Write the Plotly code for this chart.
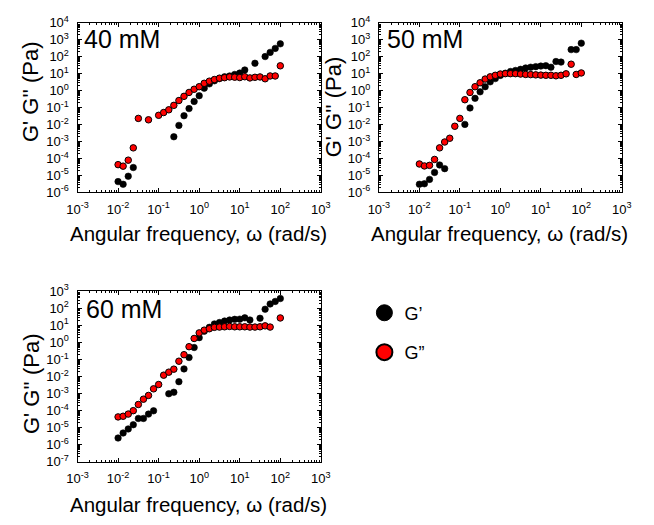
import plotly.graph_objects as go

# the page body has an 8px margin, so the figure is drawn 8px in from the window corner
OFF = 8
W, H = 654 - OFF, 525 - OFF
FONT = "Liberation Sans"

# angular frequency, rad/s (same sweep for every sample)
omega = [0.01, 0.0133, 0.0178, 0.0237, 0.0316, 0.0422, 0.0562, 0.075,
         0.1, 0.133, 0.178, 0.237, 0.316, 0.422, 0.562, 0.75,
         1, 1.33, 1.78, 2.37, 3.16, 4.22, 5.62, 7.5,
         10, 13.3, 17.8, 23.7, 31.6, 42.2, 56.2, 75, 100]

# 40 mM
g1_40 = [4.3e-6, 3.0e-6, 8.9e-6, 2.9e-5, None, None, None, None,
         None, None, None, 1.9e-3, 8.9e-3, 0.033, 0.087, 0.23,
         0.5, 1.4, 2.5, 3.8, 5.1, 6.5, 7.3, 9.0,
         10.8, 16.5, None, 41, None, 102, 180, 310, 575]
g2_40 = [4.3e-5, 3.5e-5, 7.9e-5, 4.2e-4, 0.023, None, 0.019, None,
         0.035, 0.051, 0.074, 0.135, 0.26, 0.46, 0.78, 1.2,
         1.7, 2.7, 3.6, 4.5, 5.4, 5.8, 6.4, 6.2,
         5.9, 6.6, 5.6, 6.1, 6.4, 5.0, 7.3, 7.3, 29]

# 50 mM
g1_50 = [3.0e-6, 3.2e-6, 5.8e-6, 1.5e-5, 4.1e-5, 2.5e-5, None, None,
         None, 0.0102, 0.095, 0.35, 0.85, 1.7, 3.3, 5.1,
         7.9, 10.6, 13.4, 15.4, 18, 21.7, 24, 26,
         28, 29.5, 24, 52, 48, None, 262, 262, 630]
g2_50 = [4.7e-5, 3.6e-5, 3.9e-5, 8.7e-5, 4.2e-4, 9.3e-4, 1.55e-3, 7.9e-3,
         0.023, 0.29, 0.78, 1.7, 2.9, 4.8, 6.5, 8.0,
         9.5, 10, 10, 10, 9.5, 9.0, 8.8, 8.5,
         8.2, 8.0, 8.0, 7.5, 8.0, 9.8, 36, 9.0, 11]

# 60 mM
g1_60 = [2.5e-6, 4.9e-6, 8.5e-6, 1.5e-5, 3.5e-5, 3.5e-5, 6.3e-5, 9.8e-5,
         None, None, 9.8e-4, 1.2e-3, 5.0e-3, 0.028, 0.13, 0.5,
         1.9, 4.5, 7.6, 12, 14.5, 17.8, 20.5, 22.4,
         23, 27.5, 20.5, None, 26, 88, 178, 250, 370]
g2_60 = [4.3e-5, 4.7e-5, 6.3e-5, 1.0e-4, 2.3e-4, 4.7e-4, 7.8e-4, 1.9e-3,
         3.4e-3, 0.012, 0.018, 0.027, 0.079, 0.19, 0.56, 1.7,
         3.6, 5.2, 6.3, 7.6, 7.9, 8.2, 8.6, 8.2,
         8.2, 8.2, 7.9, 7.9, 8.2, 9.3, 7.9, None, 27]

panels = [
    ("40 mM", g1_40, g2_40, "x", "y"),
    ("50 mM", g1_50, g2_50, "x2", "y2"),
    ("60 mM", g1_60, g2_60, "x3", "y3"),
]


# window pixel -> paper fraction
def fx(p):
    return (p - OFF) / W


def fy(p):
    return 1 - (p - OFF) / H


def sup(e):
    return "10<sup>%s</sup>" % ("-%d" % -e if e < 0 else "%d" % e)


def log_axis(lo, hi, domain, anchor):
    major = [10.0 ** e for e in range(lo, hi + 1)]
    minor = [m * 10.0 ** e for e in range(lo, hi) for m in range(2, 10)]
    return dict(
        type="log", range=[lo, hi], domain=domain, anchor=anchor,
        showline=True, linecolor="black", linewidth=1, mirror="allticks",
        ticks="inside", ticklen=4, tickwidth=1, tickcolor="black",
        showgrid=False, zeroline=False,
        tickmode="array", tickvals=major, ticktext=[sup(e) for e in range(lo, hi + 1)],
        tickfont=dict(family=FONT, size=13, color="black"),
        ticklabelstandoff=5,
        minor=dict(ticks="inside", ticklen=2, tickwidth=1, tickcolor="black",
                   tickmode="array", tickvals=minor, showgrid=False),
    )


fig = go.Figure()

for label, g1, g2, xa, ya in panels:
    fig.add_trace(go.Scatter(
        x=omega, y=g1, xaxis=xa, yaxis=ya, mode="markers", showlegend=False,
        marker=dict(size=6.5, color="black", line=dict(color="black", width=0.6)),
    ))
    fig.add_trace(go.Scatter(
        x=omega, y=g2, xaxis=xa, yaxis=ya, mode="markers", showlegend=False,
        marker=dict(size=6.5, color="#ff0000", line=dict(color="black", width=1)),
    ))

# legend entries (bigger symbols than the data points)
fig.add_trace(go.Scatter(x=[None], y=[None], mode="markers", name="G’", legendgroup="a",
                         marker=dict(size=18, color="black", line=dict(color="black", width=1))))
fig.add_trace(go.Scatter(x=[None], y=[None], mode="markers", name="G”", legendgroup="b",
                         marker=dict(size=18, color="#ff0000", line=dict(color="black", width=2))))

top = [fy(189.3), fy(14)]
bottom = [fy(468), fy(291.5)]
left = [fx(68.5), fx(320)]
right = [fx(380), fx(631)]

xtitle = "Angular frequency, ω (rad/s)"
ytitle = "G' G'' (Pa)"
annotations = []
for text, x, y in [("40 mM", 73, 31), ("50 mM", 386, 31), ("60 mM", 75, 310)]:
    annotations.append(dict(text=text, x=fx(x), y=fy(y), xref="paper", yref="paper",
                            xanchor="left", yanchor="middle", showarrow=False,
                            font=dict(family=FONT, size=25, color="black")))
for x, y in [(194, 232), (505, 232), (194, 512)]:
    annotations.append(dict(text=xtitle, x=fx(x), y=fy(y), xref="paper", yref="paper",
                            xanchor="center", yanchor="middle", showarrow=False,
                            font=dict(family=FONT, size=20.5, color="black")))
for x, y in [(20, 85), (334, 101), (21, 387)]:
    annotations.append(dict(text=ytitle, x=fx(x), y=fy(y), xref="paper", yref="paper",
                            xanchor="center", yanchor="middle", showarrow=False, textangle=-90,
                            font=dict(family=FONT, size=22, color="black")))

fig.update_layout(
    width=W, height=H,
    margin=dict(l=0, r=0, t=0, b=0),
    paper_bgcolor="white", plot_bgcolor="white",
    font=dict(family=FONT, color="black"),
    xaxis=log_axis(-3, 3, left, "y"),
    yaxis=log_axis(-6, 4, top, "x"),
    xaxis2=log_axis(-3, 3, right, "y2"),
    yaxis2=log_axis(-6, 4, top, "x2"),
    xaxis3=log_axis(-3, 3, left, "y3"),
    yaxis3=log_axis(-7, 3, bottom, "x3"),
    showlegend=True,
    legend=dict(x=fx(365), y=fy(295), xanchor="left", yanchor="top",
                font=dict(family=FONT, size=18, color="black"),
                tracegroupgap=13, itemsizing="trace", bgcolor="rgba(0,0,0,0)"),
    annotations=annotations,
)

fig.write_html("out.html")
